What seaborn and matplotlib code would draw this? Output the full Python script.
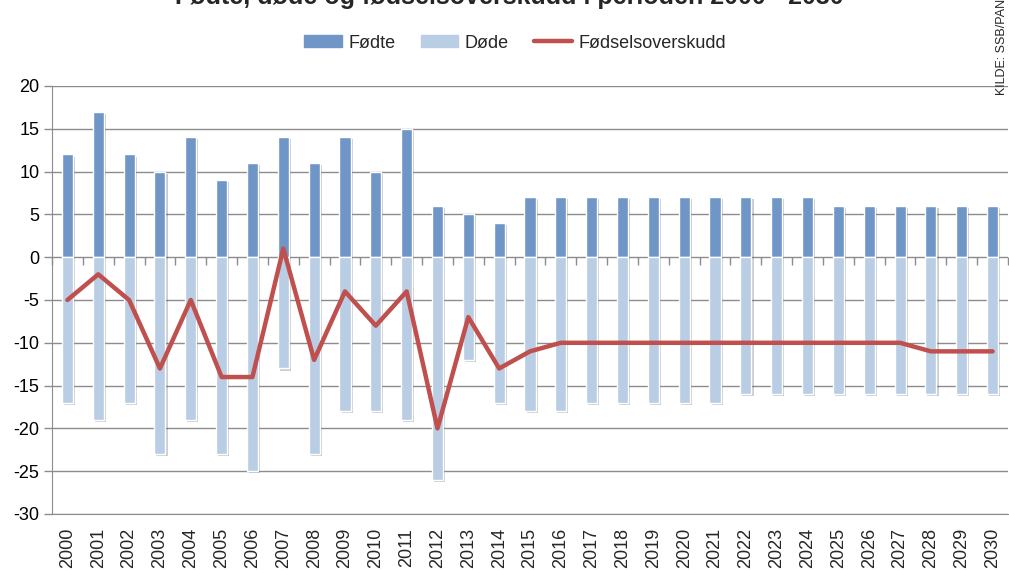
import numpy as np
import pandas as pd
import seaborn as sns
import matplotlib.pyplot as plt
import matplotlib.patheffects as pe
from matplotlib.lines import Line2D
from matplotlib.patches import Patch
from matplotlib.ticker import NullFormatter

# data lest av fra figuren
years = [str(y) for y in range(2000, 2031)]
fodte = [12, 17, 12, 10, 14, 9, 11, 14, 11, 14, 10, 15, 6, 5, 4,
         7, 7, 7, 7, 7, 7, 7, 7, 7, 7, 6, 6, 6, 6, 6, 6]
dode = [-17, -19, -17, -23, -19, -23, -25, -13, -23, -18, -18, -19, -26, -12, -17,
        -18, -18, -17, -17, -17, -17, -17, -16, -16, -16, -16, -16, -16, -16, -16, -16]
overskudd = [-5, -2, -5, -13, -5, -14, -14, 1, -12, -4, -8, -4, -20, -7, -13,
             -11, -10, -10, -10, -10, -10, -10, -10, -10, -10, -10, -10, -10, -11, -11, -11]

c_fodte = '#6F96C6'
c_dode = '#B9CDE5'
c_line = '#C0504D'
grid_c = '#8C8C8C'

sns.set_style('white')
plt.rcParams['font.family'] = ['Liberation Sans', 'DejaVu Sans']
plt.rcParams['axes.unicode_minus'] = False

df = pd.DataFrame({'year': years, 'fodte': fodte, 'dode': dode, 'overskudd': overskudd})

fig = plt.figure(figsize=(10.09, 5.70), dpi=100)
ax = fig.add_axes([52 / 1009, 56 / 570, 956 / 1009, 428 / 570])

shadow = [pe.SimplePatchShadow(offset=(1.5, -1.5), alpha=0.25), pe.Normal()]
sns.barplot(data=df, x='year', y='fodte', color=c_fodte, width=0.36,
            saturation=1, ax=ax, zorder=3)
sns.barplot(data=df, x='year', y='dode', color=c_dode, width=0.36,
            saturation=1, ax=ax, zorder=3)
for p in ax.patches:
    p.set_path_effects(shadow)

sns.lineplot(x=np.arange(len(years)), y=df['overskudd'], color=c_line,
             linewidth=3.2, ax=ax, zorder=4)

ax.set_xlim(-0.5, len(years) - 0.5)
ax.set_ylim(-30, 20)
ax.set_yticks(range(-30, 21, 5))
ax.yaxis.grid(True, color=grid_c, linewidth=1)
ax.set_axisbelow(True)
ax.set_xlabel('')
ax.set_ylabel('')

for s in ['top', 'right']:
    ax.spines[s].set_visible(False)
ax.spines['left'].set_color(grid_c)
ax.spines['bottom'].set_color(grid_c)

ax.tick_params(axis='y', labelsize=13, colors=grid_c, labelcolor='black',
               length=6, width=1, direction='out', pad=3, left=True)
ax.tick_params(axis='x', labelsize=13, labelrotation=90, length=0, pad=10)

# x-aksen ved null med tick-merker mellom kategoriene
sec = ax.secondary_xaxis(0.6)
sec.set_xticks(np.arange(-0.5, len(years), 1))
sec.xaxis.set_ticks_position('bottom')
sec.xaxis.set_major_formatter(NullFormatter())
sec.tick_params(axis='x', direction='out', length=6, width=1, colors=grid_c,
                labelbottom=False, labeltop=False)
sec.spines['bottom'].set_color(grid_c)
sec.spines['top'].set_visible(False)

handles = [Patch(color=c_fodte), Patch(color=c_dode),
           Line2D([], [], color=c_line, linewidth=3.2)]
fig.legend(handles, ['Fødte', 'Døde', 'Fødselsoverskudd'], loc='center',
           bbox_to_anchor=(515 / 1009, 1 - 43 / 570), ncol=3, frameon=False,
           fontsize=13, handlelength=2.1, handleheight=0.65, columnspacing=1.4,
           handletextpad=0.35)

fig.text(0.505, 1 + 3 / 570, 'Fødte, døde og fødselsoverskudd i perioden 2000 - 2030',
         ha='center', va='center', fontsize=18, fontweight='bold')
fig.text(1002 / 1009, 1 - 38 / 570, 'KILDE: SSB/PANDA', rotation=90,
         ha='center', va='center', fontsize=9)

fig.savefig('out.png', dpi=100)
